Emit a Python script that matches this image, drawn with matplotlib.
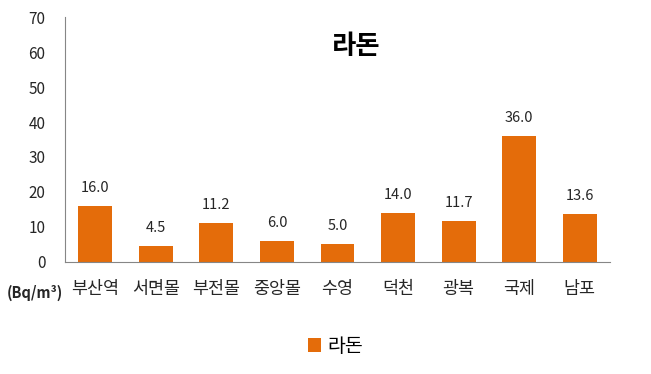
import matplotlib
matplotlib.use("Agg")
import matplotlib.pyplot as plt
import numpy as np

plt.rcParams['font.family'] = ['Noto Sans CJK KR', 'DejaVu Sans']

# 측정 지점별 라돈 농도
places = ['부산역', '서면몰', '부전몰', '중앙몰', '수영', '덕천', '광복', '국제', '남포']
radon = [16.0, 4.5, 11.2, 6.0, 5.0, 14.0, 11.7, 36.0, 13.6]
yticks = [0, 10, 20, 30, 40, 50, 60, 70]

fig = plt.figure(figsize=(6.51, 3.74), dpi=100)
ax = fig.add_axes([0.0998, 0.2995, 0.8372, 0.655])

x = np.arange(len(places))
bars = ax.bar(x, radon, width=0.56, color='#E46C0A', label='라돈')
for b, v in zip(bars, radon):
    ax.annotate(f'{v:.1f}', (b.get_x() + b.get_width() / 2, v),
                xytext=(0, 8), textcoords='offset points',
                ha='center', va='bottom', fontsize=10.5, color='#262626')

ax.set_xlim(-0.5, len(places) - 0.5)
ax.set_ylim(0, 70)
ax.set_yticks(yticks)
ax.set_xticks(x)
ax.set_xticklabels(places, fontsize=12.5, color='#262626')
ax.tick_params(axis='y', length=0, labelsize=11, labelcolor='#262626', pad=14)
ax.tick_params(axis='x', length=0, pad=13)
for s in ['top', 'right']:
    ax.spines[s].set_visible(False)
for s in ['left', 'bottom']:
    ax.spines[s].set_color('#868686')

ax.text(0.534, 0.878, '라돈', transform=ax.transAxes, ha='center', va='center',
        fontsize=19, fontweight='bold', color='black')
fig.text(0.054, 1 - 293 / 374, '(Bq/m³)', ha='center', va='center',
         fontsize=10.5, fontweight='bold', color='#262626')

fig.legend(loc='center', bbox_to_anchor=(0.515, 1 - 346 / 374), frameon=False,
           fontsize=14, handlelength=0.7, handleheight=0.7, handletextpad=0.3)

fig.savefig('out.png', dpi=100)
